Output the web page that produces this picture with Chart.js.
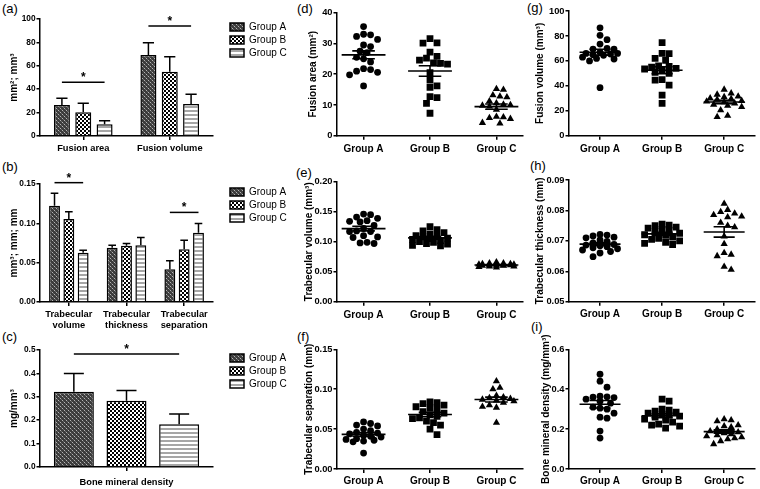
<!DOCTYPE html>
<html><head><meta charset="utf-8">
<script src="https://cdn.jsdelivr.net/npm/chart.js@4.4.1/dist/chart.umd.min.js"></script>
<style>
html,body{margin:0;padding:0;background:#fff;}
body{width:760px;height:489px;position:relative;overflow:hidden;font-family:"Liberation Sans",Arial,sans-serif;}
.lbl{position:absolute;font-size:13px;line-height:13px;color:#000;}
</style></head><body>
<div class="lbl" style="left:2px;top:1.5px">(a)</div>
<div class="lbl" style="left:2px;top:160px">(b)</div>
<div class="lbl" style="left:2px;top:329.5px">(c)</div>
<div class="lbl" style="left:297px;top:1.5px">(d)</div>
<div class="lbl" style="left:296px;top:166px">(e)</div>
<div class="lbl" style="left:297px;top:330px">(f)</div>
<div class="lbl" style="left:527px;top:1px">(g)</div>
<div class="lbl" style="left:530px;top:159px">(h)</div>
<div class="lbl" style="left:531px;top:320px">(i)</div>
<script>
// ---------------- DATA ----------------
const groupNames = ['Group A', 'Group B', 'Group C'];

// (a) fusion bars
const fusionLabels = ['Fusion area', 'Fusion volume'];
const fusionMeanA = [26.5, 69.2];
const fusionMeanB = [20.3, 55.0];
const fusionMeanC = [10.0, 27.4];
const fusionErrA = [5.7, 10.6];
const fusionErrB = [7.6, 12.8];
const fusionErrC = [3.1, 8.2];
const fusionSig = [45.9, 94.0];

// (b) trabecular bars
const trabLabels = [['Trabecular', 'volume'], ['Trabecular', 'thickness'], ['Trabecular', 'separation']];
const trabMeanA = [0.1224, 0.0689, 0.0416];
const trabMeanB = [0.1054, 0.0714, 0.0671];
const trabMeanC = [0.0625, 0.0722, 0.0880];
const trabErrA = [0.0157, 0.0033, 0.0107];
const trabErrB = [0.0093, 0.0030, 0.0115];
const trabErrC = [0.0034, 0.0098, 0.0119];
const trabSig = [0.1517, null, 0.1139];

// (c) BMD bars
const bmdLabels = ['Bone mineral density'];
const bmdMeanA = [0.322];
const bmdMeanB = [0.283];
const bmdMeanC = [0.183];
const bmdErrA = [0.078];
const bmdErrB = [0.044];
const bmdErrC = [0.044];
const bmdSig = [0.483];

// (d) fusion area scatter
const areaA = [35.5, 33.0, 32.8, 32.3, 31.3, 29.5, 29.0, 27.5, 27.0, 25.5, 25.0, 24.0, 21.8, 21.5, 21.0, 20.6, 19.8, 16.2];
const areaB = [31.6, 30.2, 30.1, 27.2, 25.8, 25.2, 24.6, 23.7, 23.5, 23.3, 20.5, 18.1, 16.2, 15.7, 12.7, 12.4, 10.5, 7.3];
const areaC = [15.2, 15.0, 13.2, 12.8, 12.5, 11.2, 10.6, 10.2, 10.0, 9.8, 9.5, 8.5, 6.2, 6.0, 5.8, 5.5, 4.2, 4.0];

// (e) trabecular volume scatter
const tvA = [0.146, 0.145, 0.141, 0.139, 0.135, 0.134, 0.133, 0.127, 0.122, 0.118, 0.117, 0.117, 0.110, 0.108, 0.107, 0.099, 0.098, 0.097];
const tvB = [0.125, 0.120, 0.118, 0.115, 0.113, 0.110, 0.109, 0.108, 0.106, 0.105, 0.104, 0.102, 0.100, 0.099, 0.097, 0.096, 0.094, 0.093];
const tvC = [0.066, 0.064, 0.064, 0.063, 0.063, 0.062, 0.062, 0.062, 0.061, 0.061, 0.061, 0.060, 0.060, 0.060, 0.059, 0.059, 0.058, 0.057];

// (f) trabecular separation scatter
const tsA = [0.059, 0.057, 0.055, 0.054, 0.050, 0.048, 0.046, 0.045, 0.044, 0.042, 0.041, 0.040, 0.038, 0.037, 0.036, 0.035, 0.034, 0.020];
const tsB = [0.084, 0.083, 0.082, 0.080, 0.078, 0.077, 0.075, 0.072, 0.070, 0.068, 0.066, 0.064, 0.063, 0.060, 0.058, 0.055, 0.050, 0.043];
const tsC = [0.110, 0.102, 0.100, 0.092, 0.090, 0.089, 0.088, 0.087, 0.086, 0.085, 0.083, 0.080, 0.078, 0.077, 0.058];

// (g) fusion volume scatter
const volA = [86.5, 80.5, 77.0, 73.5, 70.0, 69.5, 69.5, 67.0, 66.0, 65.5, 64.5, 66.0, 65.0, 63.0, 62.0, 61.5, 60.0, 38.5];
const volB = [74.6, 66.0, 65.8, 62.0, 60.5, 56.0, 55.5, 55.0, 54.0, 53.5, 52.5, 50.8, 50.0, 45.0, 44.5, 40.6, 32.6, 26.0];
const volC = [37.0, 34.0, 33.0, 31.5, 31.0, 30.0, 29.5, 29.0, 28.0, 27.5, 27.0, 26.0, 25.0, 24.0, 23.0, 20.5, 16.0, 15.0];

// (h) trabecular thickness scatter
const ttA = [0.0721, 0.0719, 0.0716, 0.0712, 0.0710, 0.0703, 0.0698, 0.0693, 0.0688, 0.0686, 0.0684, 0.0681, 0.0677, 0.0674, 0.0670, 0.0665, 0.0660, 0.0648];
const ttB = [0.0755, 0.0752, 0.0750, 0.0745, 0.0742, 0.0738, 0.0735, 0.0730, 0.0725, 0.0720, 0.0718, 0.0712, 0.0708, 0.0705, 0.0700, 0.0695, 0.0692, 0.0688];
const ttC = [0.0822, 0.0802, 0.0795, 0.0790, 0.0785, 0.0780, 0.0778, 0.0760, 0.0750, 0.0745, 0.0715, 0.0690, 0.0660, 0.0655, 0.0650, 0.0615, 0.0605];

// (i) BMD scatter
const bmdA = [0.475, 0.440, 0.410, 0.365, 0.362, 0.360, 0.358, 0.350, 0.340, 0.330, 0.310, 0.305, 0.300, 0.280, 0.260, 0.255, 0.190, 0.155];
const bmdB = [0.350, 0.340, 0.300, 0.295, 0.290, 0.285, 0.280, 0.275, 0.270, 0.265, 0.260, 0.250, 0.245, 0.235, 0.225, 0.220, 0.215, 0.205];
const bmdC = [0.250, 0.245, 0.240, 0.220, 0.215, 0.210, 0.200, 0.190, 0.185, 0.180, 0.175, 0.170, 0.165, 0.160, 0.155, 0.150, 0.140, 0.125];

// ---------------- SETUP ----------------
const FAMILY = '"Liberation Sans", Arial, sans-serif';
Chart.defaults.font.family = FAMILY;
Chart.defaults.color = '#000';
Chart.defaults.animation = false;

function makeCanvas(x, y, w, h) {
  const c = document.createElement('canvas');
  c.width = w; c.height = h;
  c.style.cssText = `position:absolute;left:${x}px;top:${y}px;width:${w}px;height:${h}px`;
  document.body.appendChild(c);
  return c;
}

function tile(w, h, draw) {
  const c = document.createElement('canvas');
  c.width = w; c.height = h;
  draw(c.getContext('2d'));
  return c;
}
function patterns(ctx) {
  const a = ctx.createPattern(tile(4, 4, g => {
    g.fillStyle = '#3c3c3c'; g.fillRect(0, 0, 4, 4);
    g.fillStyle = '#b4b4b4'; g.fillRect(0, 0, 1, 1); g.fillRect(2, 2, 1, 1);
    g.fillStyle = '#6a6a6a'; g.fillRect(1, 1, 1, 1); g.fillRect(3, 3, 1, 1);
  }), 'repeat');
  const b = ctx.createPattern(tile(4, 4, g => {
    g.fillStyle = '#000'; g.fillRect(0, 0, 4, 4);
    g.fillStyle = '#fff'; g.fillRect(0, 0, 2, 2); g.fillRect(2, 2, 2, 2);
  }), 'repeat');
  const c = ctx.createPattern(tile(4, 4, g => {
    g.fillStyle = '#fff'; g.fillRect(0, 0, 4, 4);
    g.fillStyle = '#a6a6a6'; g.fillRect(0, 2, 4, 2);
  }), 'repeat');
  return [a, b, c];
}

function errorBarsPlugin(errs) {
  return {
    id: 'errorBars',
    afterDatasetsDraw(chart) {
      const ctx = chart.ctx, ys = chart.scales.y;
      ctx.save();
      ctx.strokeStyle = '#000'; ctx.lineWidth = 1.5;
      chart.data.datasets.forEach((ds, i) => {
        chart.getDatasetMeta(i).data.forEach((bar, j) => {
          const yTop = ys.getPixelForValue(ds.data[j] + errs[i][j]);
          const cap = Math.min(bar.width * 0.7, 20) / 2;
          ctx.beginPath();
          ctx.moveTo(bar.x, bar.y); ctx.lineTo(bar.x, yTop);
          ctx.moveTo(bar.x - cap, yTop); ctx.lineTo(bar.x + cap, yTop);
          ctx.stroke();
        });
      });
      ctx.restore();
    }
  };
}

function sigPlugin(levels) {
  return {
    id: 'sigLines',
    afterDatasetsDraw(chart) {
      const ctx = chart.ctx, ys = chart.scales.y;
      const first = chart.getDatasetMeta(0).data, last = chart.getDatasetMeta(chart.data.datasets.length - 1).data;
      ctx.save();
      ctx.strokeStyle = '#000'; ctx.fillStyle = '#000'; ctx.lineWidth = 1.5;
      ctx.font = 'bold 12px ' + FAMILY;
      ctx.textAlign = 'center'; ctx.textBaseline = 'alphabetic';
      levels.forEach((lv, j) => {
        if (lv === null) return;
        const y = ys.getPixelForValue(lv);
        const x1 = first[j].x, x2 = last[j].x;
        ctx.beginPath(); ctx.moveTo(x1, y); ctx.lineTo(x2, y); ctx.stroke();
        ctx.fillText('*', (x1 + x2) / 2, y - 1);
      });
      ctx.restore();
    }
  };
}

function meanSemPlugin(halfMean, halfSem) {
  return {
    id: 'meanSem',
    afterDatasetsDraw(chart) {
      const ctx = chart.ctx, xs = chart.scales.x, ys = chart.scales.y;
      ctx.save();
      ctx.strokeStyle = '#000'; ctx.lineWidth = 1.6;
      chart.data.datasets.forEach((ds, i) => {
        const v = ds.data.map(p => p.y);
        const n = v.length;
        const m = v.reduce((s, a) => s + a, 0) / n;
        const sd = Math.sqrt(v.reduce((s, a) => s + (a - m) * (a - m), 0) / (n - 1));
        const se = sd / Math.sqrt(n);
        const c = i + 1;
        const ym = ys.getPixelForValue(m), yh = ys.getPixelForValue(m + se), yl = ys.getPixelForValue(m - se);
        const xc = xs.getPixelForValue(c);
        ctx.beginPath();
        ctx.moveTo(xs.getPixelForValue(c - halfMean), ym); ctx.lineTo(xs.getPixelForValue(c + halfMean), ym);
        ctx.moveTo(xs.getPixelForValue(c - halfSem), yh); ctx.lineTo(xs.getPixelForValue(c + halfSem), yh);
        ctx.moveTo(xs.getPixelForValue(c - halfSem), yl); ctx.lineTo(xs.getPixelForValue(c + halfSem), yl);
        ctx.moveTo(xc, yh); ctx.lineTo(xc, yl);
        ctx.stroke();
      });
      ctx.restore();
    }
  };
}

function yAxis(o) {
  return {
    position: 'left',
    min: o.min, max: o.max,
    ticks: { stepSize: o.step, font: { size: o.tickSize, weight: 'bold' }, color: '#000', padding: 1,
      callback: v => Number(v).toFixed(o.dec) },
    grid: { display: true, drawOnChartArea: false, drawTicks: true, tickLength: 3.5, color: '#000', lineWidth: 1.5 },
    border: { display: true, color: '#000', width: 1.5 },
    title: { display: true, text: o.title, font: { size: 10, weight: 'bold' }, color: '#000', padding: { top: o.titlePad, bottom: 0 } },
    afterFit: s => { s.width = o.width; }
  };
}

function barChart(o) {
  const cv = makeCanvas(0, o.top, 300, o.h);
  const ctx = cv.getContext('2d');
  const pats = patterns(ctx);
  const series = [o.a, o.b, o.c];
  return new Chart(ctx, {
    type: 'bar',
    data: {
      labels: o.labels,
      datasets: series.map((d, i) => ({
        label: groupNames[i], data: d, backgroundColor: pats[i], borderColor: '#000', borderWidth: 1.5,
        categoryPercentage: o.catPct, barPercentage: o.barPct
      }))
    },
    options: {
      responsive: false, animation: false, events: [],
      layout: { padding: { top: o.padTop, right: 13, left: 0, bottom: 0 } },
      scales: {
        x: {
          ticks: { font: { size: 9.3, weight: 'bold' }, color: '#000', padding: o.xPad, maxRotation: 0, autoSkip: false },
          grid: { display: true, drawOnChartArea: false, offset: false, tickLength: 4, color: '#000', lineWidth: 1.5 },
          border: { display: true, color: '#000', width: 1.5 },
          afterFit: s => { s.height = o.xH; }
        },
        y: yAxis({ min: 0, max: o.max, step: o.step, dec: o.dec, tickSize: 8.3, title: o.title, titlePad: 8, width: 40 }),
        gap: { position: 'right', display: true, grid: { display: false, drawTicks: false }, border: { display: false },
          ticks: { display: false }, afterFit: s => { s.width = 14; } }
      },
      plugins: {
        legend: { position: 'right', align: 'start', fullSize: false, maxWidth: 60,
          labels: { boxWidth: 14, boxHeight: 8, padding: 3, color: '#000', font: { size: 10 } } },
        tooltip: { enabled: false }
      }
    },
    plugins: [errorBarsPlugin(o.errs), sigPlugin(o.sig)]
  });
}

function swarm(chart, spacing, maxOff) {
  const xs = chart.scales.x, ys = chart.scales.y;
  const unit = xs.getPixelForValue(1) - xs.getPixelForValue(0);
  const cands = [0];
  for (let s = spacing / 2; s <= maxOff; s += spacing / 2) cands.push(s, -s);
  chart.data.datasets.forEach((ds, i) => {
    const py = ds.data.map(p => ys.getPixelForValue(p.y));
    const order = py.map((p, k) => k).sort((a, b) => py[a] - py[b]);
    const placed = [];
    const offs = [];
    order.forEach(k => {
      let best = 0, bestCost = Infinity;
      for (const c of cands) {
        let cost = Math.abs(c) * 0.01;
        for (const q of placed) {
          const d = Math.hypot(q.x - c, q.y - py[k]);
          if (d < spacing) cost += spacing - d;
        }
        if (cost < bestCost) { bestCost = cost; best = c; }
      }
      placed.push({ x: best, y: py[k] });
      offs[k] = best;
    });
    ds.data = ds.data.map((p, k) => ({ x: i + 1 + offs[k] / unit, y: p.y }));
  });
  chart.update('none');
}

const markerStyles = [
  { pointStyle: 'circle', pointRadius: 3.4 },
  { pointStyle: 'rect', pointRadius: 4.8 },
  { pointStyle: 'triangle', pointRadius: 4.2 }
];

function scatterChart(o) {
  const cv = makeCanvas(o.left, o.top, o.w, o.h);
  const series = [o.a, o.b, o.c];
  const chart = new Chart(cv.getContext('2d'), {
    type: 'scatter',
    data: {
      datasets: series.map((vals, i) => ({
        label: groupNames[i],
        data: vals.map(v => ({ x: i + 1, y: v })),
        pointStyle: markerStyles[i].pointStyle, pointRadius: markerStyles[i].pointRadius,
        backgroundColor: '#000', borderColor: '#000', borderWidth: 0
      }))
    },
    options: {
      responsive: false, animation: false, events: [],
      layout: { padding: { top: o.padTop, right: o.padRight, left: 0, bottom: 0 } },
      scales: {
        x: {
          type: 'linear', min: o.xMin, max: o.xMax,
          afterBuildTicks: s => { s.ticks = groupNames.map((g, i) => ({ value: i + 1 })); },
          ticks: { font: { size: 10, weight: 'bold' }, color: '#000', padding: o.xPad, maxRotation: 0, autoSkip: false,
            callback: v => groupNames[Math.round(v) - 1] },
          grid: { display: true, drawOnChartArea: false, tickLength: 4, color: '#000', lineWidth: 1.5 },
          border: { display: true, color: '#000', width: 1.5 },
          afterFit: s => { s.height = o.xH; }
        },
        y: yAxis({ min: o.min, max: o.max, step: o.step, dec: o.dec, tickSize: 9.3, title: o.title, titlePad: o.titlePad, width: 44 })
      },
      plugins: { legend: { display: false }, tooltip: { enabled: false } }
    },
    plugins: [meanSemPlugin(0.33, 0.17)]
  });
  swarm(chart, 7, 20);
  return chart;
}

// ---------------- CHARTS ----------------
barChart({ top: 0, h: 160, padTop: 19, xH: 24, xPad: 2.4, labels: fusionLabels,
  a: fusionMeanA, b: fusionMeanB, c: fusionMeanC, errs: [fusionErrA, fusionErrB, fusionErrC], sig: fusionSig,
  max: 100, step: 20, dec: 0, title: 'mm²; mm³', catPct: 0.74, barPct: 0.75 });
barChart({ top: 160, h: 170, padTop: 24, xH: 28, xPad: 2.4, labels: trabLabels,
  a: trabMeanA, b: trabMeanB, c: trabMeanC, errs: [trabErrA, trabErrB, trabErrC], sig: trabSig,
  max: 0.15, step: 0.05, dec: 2, title: 'mm³; mm; mm', catPct: 0.745, barPct: 0.76 });
barChart({ top: 330, h: 159, padTop: 20, xH: 22, xPad: 5.4, labels: bmdLabels,
  a: bmdMeanA, b: bmdMeanB, c: bmdMeanC, errs: [bmdErrA, bmdErrB, bmdErrC], sig: bmdSig,
  max: 0.5, step: 0.1, dec: 1, title: 'mg/mm³', catPct: 0.913, barPct: 0.76 });

const mid = { left: 293, w: 237, padRight: 7, xMin: 0.6, xMax: 3.4 };
const right = { left: 525, w: 235, padRight: 3, xMin: 0.5, xMax: 3.5 };

scatterChart(Object.assign({}, mid, { top: 0, h: 160, padTop: 12.7, xH: 24.3, xPad: 3.3, titlePad: 14,
  a: areaA, b: areaB, c: areaC, min: 0, max: 40, step: 10, dec: 0, title: 'Fusion area (mm²)' }));
scatterChart(Object.assign({}, mid, { top: 160, h: 170, padTop: 21.7, xH: 28.3, xPad: 3.3, titlePad: 10,
  a: tvA, b: tvB, c: tvC, min: 0, max: 0.2, step: 0.05, dec: 2, title: 'Trabecular volume (mm³)' }));
scatterChart(Object.assign({}, mid, { top: 330, h: 159, padTop: 19.3, xH: 20, xPad: 2.7, titlePad: 10,
  a: tsA, b: tsB, c: tsC, min: 0, max: 0.15, step: 0.05, dec: 2, title: 'Trabecular separation (mm)' }));
scatterChart(Object.assign({}, right, { top: 0, h: 160, padTop: 11, xH: 24.3, xPad: 3.6, titlePad: 9.7,
  a: volA, b: volB, c: volC, min: 0, max: 100, step: 20, dec: 0, title: 'Fusion volume (mm³)' }));
scatterChart(Object.assign({}, right, { top: 160, h: 170, padTop: 20, xH: 28.3, xPad: 2.3, titlePad: 9,
  a: ttA, b: ttB, c: ttC, min: 0.05, max: 0.09, step: 0.01, dec: 2, title: 'Trabecular thickness (mm)' }));
scatterChart(Object.assign({}, right, { top: 330, h: 159, padTop: 19.3, xH: 20, xPad: 2, titlePad: 15,
  a: bmdA, b: bmdB, c: bmdC, min: 0, max: 0.6, step: 0.2, dec: 1, title: 'Bone mineral density (mg/mm³)' }));
</script>
</body></html>
